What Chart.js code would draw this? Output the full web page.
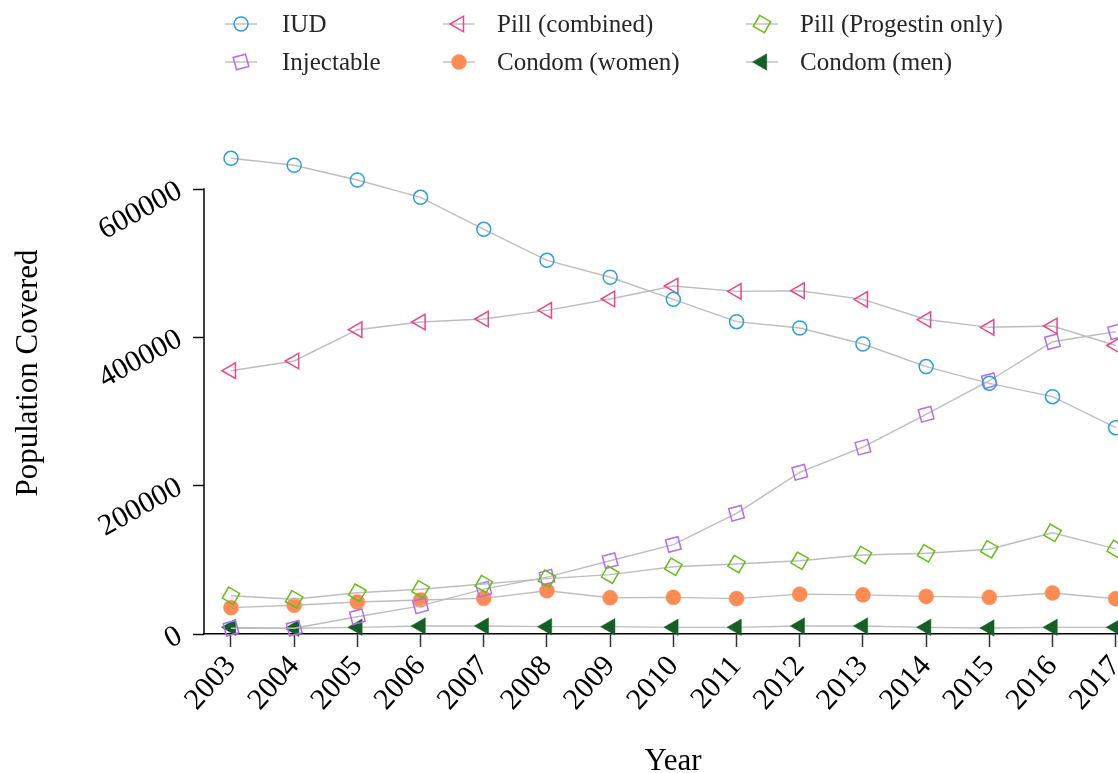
<!DOCTYPE html>
<html>
<head>
<meta charset="utf-8">
<title>Population Covered by Contraceptive Method, 2003–2017</title>
<script src="https://cdn.jsdelivr.net/npm/chart.js@4/dist/chart.umd.min.js"></script>
<style>
  html, body { margin: 0; padding: 0; background: #ffffff; overflow: hidden; }
  #wrap { width: 1118px; height: 773px; position: relative; }
  canvas { display: block; }
</style>
</head>
<body>
<div id="wrap"><canvas id="chart" width="1118" height="773"></canvas></div>
<script>
// ---- data ----
const YEARS = [2003, 2004, 2005, 2006, 2007, 2008, 2009, 2010, 2011, 2012, 2013, 2014, 2015, 2016, 2017];
const Y_TICKS = [0, 200000, 400000, 600000];

const IUD          = [641400, 632000, 612100, 588800, 545600, 503800, 481000, 451200, 421100, 412600, 391000, 360600, 338000, 320000, 278200];
const PILL_COMB    = [355000, 368100, 410300, 420700, 424700, 436400, 451700, 469200, 462000, 462900, 451200, 424000, 413500, 415300, 389000];
const PILL_PROG    = [51600, 46800, 55700, 60300, 67400, 74600, 80000, 90700, 94400, 98800, 106500, 108800, 114200, 136400, 114800];
const INJECTABLE   = [7700, 7700, 23300, 38000, 60500, 76600, 98800, 120600, 162700, 218000, 252000, 296200, 341500, 394100, 407600];
const CONDOM_WOMEN = [35500, 38700, 43100, 45800, 48100, 58400, 48900, 49400, 47700, 53700, 52800, 50700, 49400, 55300, 47600];
const CONDOM_MEN   = [9000, 7700, 9000, 10800, 10800, 9900, 9900, 9000, 9000, 10800, 10800, 9000, 8100, 9000, 9000];

const SERIES_NAMES = ['IUD', 'Pill (combined)', 'Pill (Progestin only)', 'Injectable', 'Condom (women)', 'Condom (men)'];

// ---- styling ----
const SERIF = "'Liberation Serif', 'Times New Roman', Times, serif";
const LINE_GREY = '#bdbdbd';
const NONE = 'rgba(0,0,0,0)';
const Y_AXIS_MAX = 693034;   // leaves head-room above the 600000 tick for the first IUD points

const STYLES = [
  { color: '#2b9fdc', style: 'circle',   rotation: 0,   radius: 7,   fill: false },
  { color: '#e8478b', style: 'triangle', rotation: -90, radius: 9,   fill: false },
  { color: '#66bd1c', style: 'rect',     rotation: 30,  radius: 9,   fill: false },
  { color: '#b26cf4', style: 'rect',     rotation: -15, radius: 9,   fill: false },
  { color: '#fc8b54', style: 'circle',   rotation: 0,   radius: 7.5, fill: true  },
  { color: '#145f24', style: 'triangle', rotation: -90, radius: 9.5, fill: true  }
];

const VALUES = [IUD, PILL_COMB, PILL_PROG, INJECTABLE, CONDOM_WOMEN, CONDOM_MEN];

const datasets = VALUES.map((vals, i) => {
  const s = STYLES[i];
  return {
    label: SERIES_NAMES[i],
    data: YEARS.map((yr, k) => ({ x: yr, y: vals[k] })),
    borderColor: LINE_GREY,
    borderWidth: 1.4,
    backgroundColor: NONE,
    tension: 0,
    fill: false,
    clip: false,
    pointStyle: s.style,
    rotation: s.rotation,
    pointRadius: s.radius,
    pointHoverRadius: s.radius,
    pointBorderColor: s.color,
    pointBackgroundColor: s.fill ? s.color : NONE,
    pointBorderWidth: s.fill ? 0.5 : 1.5
  };
});

// marker outline used by the legend swatches
function markerPath(ctx, style, x, y, r, rotDeg) {
  const rad = rotDeg * Math.PI / 180;
  ctx.beginPath();
  if (style === 'circle') {
    ctx.arc(x, y, r, 0, Math.PI * 2);
  } else if (style === 'triangle') {
    let a = rad;
    ctx.moveTo(x + Math.sin(a) * r, y - Math.cos(a) * r);
    a += 2 * Math.PI / 3;
    ctx.lineTo(x + Math.sin(a) * r, y - Math.cos(a) * r);
    a += 2 * Math.PI / 3;
    ctx.lineTo(x + Math.sin(a) * r, y - Math.cos(a) * r);
  } else {
    const a = rad + Math.PI / 4;
    const cx = Math.cos(a) * r, sy = Math.sin(a) * r;
    ctx.moveTo(x - cx, y - sy);
    ctx.lineTo(x + sy, y - cx);
    ctx.lineTo(x + cx, y + sy);
    ctx.lineTo(x - sy, y + cx);
  }
  ctx.closePath();
}

// legend laid out as a 3-column grid above the plot
const LEGEND_MARK_X = [241, 459, 762];
const LEGEND_TEXT_X = [282, 497, 800];
const LEGEND_ROW_Y = [24, 62];

const gridLegend = {
  id: 'gridLegend',
  afterDraw(chart) {
    const ctx = chart.ctx;
    ctx.save();
    chart.data.datasets.forEach((ds, i) => {
      const col = i % 3, row = Math.floor(i / 3);
      const mx = LEGEND_MARK_X[col], my = LEGEND_ROW_Y[row];
      ctx.strokeStyle = LINE_GREY;
      ctx.lineWidth = 1.4;
      ctx.beginPath();
      ctx.moveTo(mx - 16, my);
      ctx.lineTo(mx + 16, my);
      ctx.stroke();

      ctx.strokeStyle = ds.pointBorderColor;
      ctx.fillStyle = ds.pointBackgroundColor;
      ctx.lineWidth = ds.pointBorderWidth;
      markerPath(ctx, ds.pointStyle, mx, my, ds.pointRadius, ds.rotation);
      ctx.fill();
      if (ds.pointBorderWidth > 0) ctx.stroke();

      ctx.fillStyle = '#262626';
      ctx.font = '25px ' + SERIF;
      ctx.textAlign = 'left';
      ctx.textBaseline = 'middle';
      ctx.fillText(ds.label, LEGEND_TEXT_X[col], my + 1);
    });
    ctx.restore();
  }
};

// y axis line running only between the first and last tick, plus axis titles
const axisDecor = {
  id: 'axisDecor',
  afterDatasetsDraw(chart) {
    const ctx = chart.ctx;
    const y = chart.scales.y;
    const top = y.getPixelForValue(Y_TICKS[Y_TICKS.length - 1]);
    const bottom = y.getPixelForValue(Y_TICKS[0]);
    ctx.save();
    ctx.strokeStyle = '#000';
    ctx.lineWidth = 1.5;
    ctx.beginPath();
    ctx.moveTo(y.right, top - 0.75);
    ctx.lineTo(y.right, bottom + 0.75);
    ctx.stroke();
    ctx.restore();
  },
  afterDraw(chart) {
    const ctx = chart.ctx;
    ctx.save();
    ctx.fillStyle = '#000';
    ctx.font = '31px ' + SERIF;
    ctx.textAlign = 'center';
    ctx.textBaseline = 'middle';
    ctx.fillText('Year', 673, 762);
    ctx.translate(29, 373);
    ctx.rotate(-Math.PI / 2);
    ctx.fillText('Population Covered', 0, 0);
    ctx.restore();
  }
};

new Chart(document.getElementById('chart'), {
  type: 'line',
  data: { datasets },
  plugins: [gridLegend, axisDecor],
  options: {
    responsive: false,
    animation: false,
    events: [],
    layout: { autoPadding: false, padding: { top: 120, left: 0, right: 0, bottom: 0 } },
    plugins: {
      legend: { display: false },
      tooltip: { enabled: false },
      title: { display: false }
    },
    scales: {
      x: {
        type: 'linear',
        min: 2002.573,
        max: 2017.036,
        afterBuildTicks: (axis) => { axis.ticks = YEARS.map(v => ({ value: v })); },
        afterFit: (axis) => { axis.height = 139; axis.paddingLeft = 0; axis.paddingRight = 0; },
        grid: { drawOnChartArea: false, drawTicks: true, tickLength: 13, tickWidth: 1.5, tickColor: '#333' },
        border: { display: true, color: '#000', width: 1.5 },
        ticks: {
          autoSkip: false,
          minRotation: 48,
          maxRotation: 48,
          padding: 2,
          color: '#000',
          font: { family: SERIF, size: 30 },
          callback: (v) => String(v)
        }
      },
      y: {
        type: 'linear',
        min: 0,
        max: Y_AXIS_MAX,
        afterBuildTicks: (axis) => { axis.ticks = Y_TICKS.map(v => ({ value: v })); },
        afterFit: (axis) => { axis.width = 204; axis.paddingTop = 0; axis.paddingBottom = 0; },
        grid: { drawOnChartArea: false, drawTicks: true, tickLength: 11, tickWidth: 1.5, tickColor: '#111' },
        border: { display: false },
        ticks: {
          minRotation: 29,
          maxRotation: 29,
          padding: 13,
          color: '#000',
          font: { family: SERIF, size: 30 },
          callback: (v) => String(v)
        }
      }
    }
  }
});
</script>
</body>
</html>
